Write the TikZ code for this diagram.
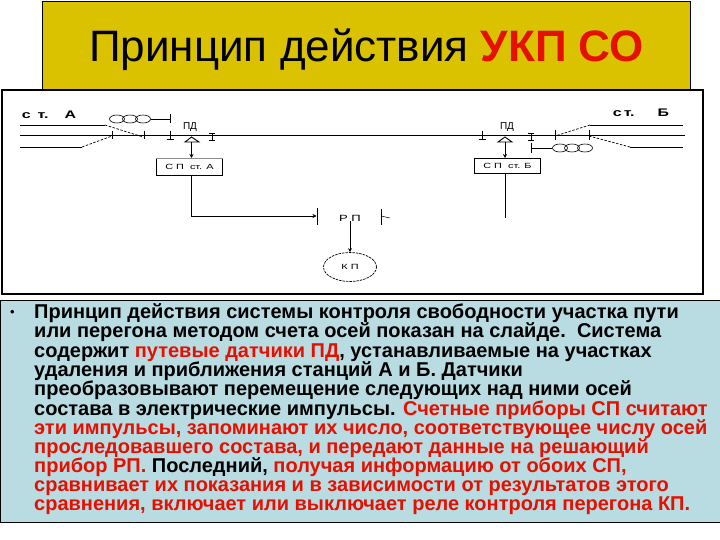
\documentclass[tikz,border=0pt]{standalone}
\usepackage{fontspec}
\setmainfont{Liberation Sans}
\newfontfamily\widefont[FakeStretch=1.45]{Liberation Sans}
\usetikzlibrary{arrows.meta,shapes.geometric,calc}
\definecolor{titley}{RGB}{218,194,0}
\definecolor{bodyb}{RGB}{184,220,226}
\definecolor{redt}{RGB}{228,16,0}
\tikzset{
 track/.style={draw=black,line width=0.9pt},
 dashtrack/.style={draw=black,line width=0.7pt,dash pattern=on 2.5pt off 1.5pt},
 lab/.style={inner sep=0pt,font=\widefont\fontsize{8}{8}\selectfont,text=black},
 stlab/.style={inner sep=0pt,font=\widefont\fontsize{11}{11}\selectfont\bfseries,text=black},
 blk/.style={line width=0.8pt,minimum width=66pt,minimum height=16pt,inner sep=0pt,font=\widefont\fontsize{7.5}{7.5}\selectfont},
 tl/.style={inner sep=0pt,anchor=base west,font=\fontsize{20}{20}\selectfont\bfseries,text=black},
 arr/.style={draw=black,line width=0.8pt,-{Stealth[length=4pt,width=4pt]}},
 tick/.style={draw=black,line width=0.9pt},
 coil/.style={draw=black,line width=0.6pt,ellipse,minimum width=15pt,minimum height=8pt,inner sep=0pt},
}
\begin{document}
\begin{tikzpicture}[x=1pt,y=-1pt]
\useasboundingbox (0,0) rectangle (720,540);
\fill[white] (0,0) rectangle (720,540);
\node[draw=black,line width=1pt,fill=titley,anchor=north west,minimum width=648pt,minimum height=89pt,inner sep=0pt] (title) at (42,1) {};
\node[inner sep=0pt,anchor=base west,font=\fontsize{44}{44}\selectfont] (titlet) at (89,62) {Принцип действия \textcolor{redt}{\bfseries УКП СО}};
\node[draw=black,line width=2pt,fill=white,anchor=north west,minimum width=701pt,minimum height=204pt,inner sep=0pt] (scheme) at (1,89) {};
\node[draw=black,line width=1pt,fill=bodyb,anchor=north west,minimum width=722pt,minimum height=222pt,inner sep=0pt] (bodybox) at (0,300) {};
% tracks
\coordinate (mainL) at (20,135);
\coordinate (mainR) at (685,135);
\coordinate (lu1) at (20,125);
\coordinate (lu2) at (105,125);
\coordinate (lu3) at (143,137);
\coordinate (ll1) at (20,147);
\coordinate (ll2) at (82,147);
\coordinate (ll3) at (112,136);
\coordinate (ru1) at (683,125);
\coordinate (ru2) at (590,125);
\coordinate (ru3) at (555,136);
\coordinate (rl1) at (683,147);
\coordinate (rl2) at (630,147);
\coordinate (rl3) at (589,136);
\draw[track] (mainL) -- (mainR);
\draw[track] (lu1) -- (lu2);
\draw[dashtrack] (lu2) -- (lu3);
\draw[track] (ll1) -- (ll2);
\draw[dashtrack] (ll2) -- (ll3);
\draw[track] (ru1) -- (ru2);
\draw[dashtrack] (ru2) -- (ru3);
\draw[track] (rl1) -- (rl2);
\draw[dashtrack] (rl2) -- (rl3);
% labels
\node[stlab] (sta) at (49,115) {с\hspace{7pt}т.\hspace{16pt}А};
\node[stlab] (stb) at (641,113) {с\hspace{2pt}т.\hspace{23pt}Б};
\node[lab,font=\fontsize{10}{10}\selectfont] (pd1) at (190,127) {ПД};
\node[lab,font=\fontsize{10}{10}\selectfont] (pd2) at (507,127) {ПД};
% coils left
\node[coil] (c1) at (117,119) {};
\node[coil] (c2) at (130,119) {};
\node[coil] (c3) at (143,119) {};
\coordinate (ct1) at (170,114);
\coordinate (ct2) at (170,123);
\coordinate (cm1) at (170,119);
\draw[track] (c3) -- (cm1);
\draw[tick] (ct1) -- (ct2);
% coils right
\node[coil] (d1) at (560,148) {};
\node[coil] (d2) at (572,148) {};
\node[coil] (d3) at (585,148) {};
\coordinate (dt1) at (531,143);
\coordinate (dt2) at (531,153);
\coordinate (dm1) at (531,148);
\draw[track] (d1) -- (dm1);
\draw[tick] (dt1) -- (dt2);
% joints
\foreach \n/\xa/\ya/\yb in {ta/112/131/139, tb/144/131/139, tc/555/130/140, td/589/130/140}{
 \coordinate (\n1) at (\xa,\ya); \coordinate (\n2) at (\xa,\yb);
 \draw[tick] (\n1) -- (\n2);
}
\foreach \n/\xa/\ya/\yb in {ia/170/131/139, ic/482/131/139}{
 \coordinate (\n1) at (\xa,\ya); \coordinate (\n2) at (\xa,\yb);
 \draw[tick] (\n1) -- (\n2);
 \draw[tick] ($(\n2)+(-3.5,0)$) -- ($(\n2)+(3.5,0)$);
}
\foreach \n/\xa/\ya/\yb in {ib/212/133/140, id/531/133/140}{
 \coordinate (\n1) at (\xa,\ya); \coordinate (\n2) at (\xa,\yb);
 \draw[tick] (\n1) -- (\n2);
 \draw[tick] ($(\n1)+(-3,0)$) -- ($(\n1)+(3,0)$);
 \draw[tick] ($(\n2)+(-3,0)$) -- ($(\n2)+(3,0)$);
}
% counters
\node[blk,anchor=north west,minimum height=17pt] (spa) at (156,158) {С П\ \ ст. А};
\node[blk,anchor=north west,minimum height=15pt] (spb) at (474,158) {С П\ \ ст. Б};
\draw[track] (spa.north west) -- (spa.south west) -- (spa.south east) -- (spa.north east);
\draw[draw=black!45,line width=.5pt] (spa.north west) -- (spa.north east);
\draw[track] (spb.north west) rectangle (spb.south east);
\coordinate (pda) at (191.5,137);
\coordinate (pdal) at (185,142);
\coordinate (pdar) at (199,142);
\coordinate (pdb) at (505,137);
\coordinate (pdbl) at (498,142);
\coordinate (pdbr) at (512,142);
\draw[track] (pda) -- (pdal) -- (pdar) -- cycle;
\draw[track] (pdb) -- (pdbl) -- (pdbr) -- cycle;
\draw[arr] (pda |- pdal) -- (spa.north -| pda);
\draw[arr] (pdb |- pdbl) -- (spb.north -| pdb);
% RP
\node[lab,font=\widefont\fontsize{9}{9}\selectfont] (rp) at (350,218) {Р П};
\coordinate (rpl) at (316.5,216);
\coordinate (rpt) at (317,208);
\coordinate (rpb) at (317,225);
\coordinate (rpr) at (381,216);
\coordinate (rprt) at (381,209);
\coordinate (rprb) at (381,225);
\coordinate (rpx) at (390,218);
\draw[tick] (rpt) -- (rpb);
\draw[tick] (rprt) -- (rprb);
\draw[draw=black,line width=.5pt] (rpr) -- (rpx);
\coordinate (spbend) at (191,216);
\coordinate (spbendb) at (505,218);
\draw[track] (spa.south -| spbend) -- (spbend);
\draw[arr] (spbend) -- (rpl);
\draw[track] (spb.south -| spbendb) -- (spbendb);
\node[draw=black,line width=.7pt,dash pattern=on 2.5pt off 1pt,ellipse,minimum width=53pt,minimum height=29pt,inner sep=0pt,font=\widefont\fontsize{7.5}{7.5}\selectfont] (kp) at (350,267) {К П};
\draw[arr] (rp.south -| kp) -- (kp.north);
% body
\node[tl,font=\fontsize{13}{13}\selectfont] (b0) at (10,316) {•};
\node[tl] (b1) at (34,318) {Принцип действия системы контроля свободности участка пути};
\node[tl] (b2) at (34,337.5) {или перегона методом счета осей показан на слайде.\ \ Система};
\node[tl] (b3) at (34,357) {содержит \textcolor{redt}{путевые датчики ПД}, устанавливаемые на участках};
\node[tl] (b4) at (34,376.5) {удаления и приближения станций А и Б. Датчики};
\node[tl] (b5) at (34,395.5) {преобразовывают перемещение следующих над ними осей};
\node[tl] (b6) at (34,415) {состава в электрические импульсы. \textcolor{redt}{Счетные приборы СП считают}};
\node[tl] (b7) at (34,434) {\textcolor{redt}{эти импульсы, запоминают их число, соответствующее числу осей}};
\node[tl] (b8) at (34,453) {\textcolor{redt}{проследовавшего состава, и передают данные на решающий}};
\node[tl] (b9) at (34,472.5) {\textcolor{redt}{прибор РП.} Последний, \textcolor{redt}{получая информацию от обоих СП,}};
\node[tl] (b10) at (34,491.5) {\textcolor{redt}{сравнивает их показания и в зависимости от результатов этого}};
\node[tl] (b11) at (34,510.5) {\textcolor{redt}{сравнения, включает или выключает реле контроля перегона КП.}};
\end{tikzpicture}
\end{document}
